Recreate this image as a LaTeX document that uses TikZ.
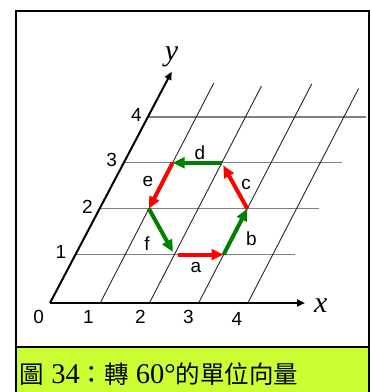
\documentclass[tikz,border=0pt]{standalone}
\usepackage{fontspec}
\usetikzlibrary{arrows.meta}
\newfontfamily\lsans{Liberation Sans}
\newfontfamily\lserif{Liberation Serif}
\newfontfamily\cjk{Noto Sans CJK TC}
\definecolor{vred}{RGB}{255,0,0}
\definecolor{vgreen}{RGB}{0,128,0}
\definecolor{capfill}{RGB}{204,255,51}
\definecolor{hgray}{RGB}{128,128,128}
\newcommand\capnum[1]{{\lserif\fontsize{28.5}{30}\selectfont#1}}
\begin{document}
\begin{tikzpicture}[x=1pt,y=-1pt,
  frame/.style={line width=2pt,black},
  hline/.style={line width=1.3pt,hgray},
  sline/.style={line width=0.9pt,black!85},
  axis/.style={line width=2pt,black,-{Triangle[length=8pt,width=7pt]}},
  vec/.style={line width=4pt,-{Triangle[length=12pt,width=10.5pt]}},
  redvec/.style={vec,vred},
  greenvec/.style={vec,vgreen},
  ticklab/.style={font=\lsans\fontsize{19}{19}\selectfont,inner sep=0pt},
  veclab/.style={font=\lsans\fontsize{19}{19}\selectfont,inner sep=0pt},
  axlabel/.style={font=\lserif\itshape\fontsize{30}{30}\selectfont,inner sep=0pt}]
\useasboundingbox (0,0) rectangle (372,392);
% caption box and frame
\fill[capfill] (16,347.3) rectangle (369,395);
\draw[frame] (16,395) -- (16,11) -- (369,11) -- (369,395);
\draw[frame,line width=2.3pt] (16,347.3) -- (369,347.3);
% oblique grid
\begin{scope}[shift={(52.3,300.5)}, x={(49.2pt,0pt)}, y={(23.7pt,45.9pt)}]
  \foreach \j in {1,...,4} \draw[hline] (0,\j) -- (4.45,\j);
  \foreach \i/\t in {1/4.74,2/4.67,3/4.72,4/4.62} \draw[sline] (\i,-0.05) -- (\i,\t);
  \coordinate (A) at (2,1);
  \coordinate (B) at (3,1);
  \coordinate (C) at (3,2);
  \coordinate (D) at (2,3);
  \coordinate (E) at (1,3);
  \coordinate (F) at (1,2);
\end{scope}
% axes
\coordinate (O) at (50,303);
\coordinate (X) at (305,303);
\coordinate (Y) at (171.7,71.7);
\draw[axis] (O) -- (X);
\draw[axis] (O) -- (Y);
\node[axlabel] (xl) at (320.7,305.5) {x};
\node[axlabel] (yl) at (171.5,56.7) {y};
% tick labels
\node[ticklab] (x0) at (38.7,316.7) {0};
\node[ticklab] (x1) at (88.3,317) {1};
\node[ticklab] (x2) at (140.5,316.7) {2};
\node[ticklab] (x3) at (188.3,316.7) {3};
\node[ticklab] (x4) at (237,318.8) {4};
\node[ticklab] (y1) at (61,251.7) {1};
\node[ticklab] (y2) at (87.3,206.7) {2};
\node[ticklab] (y3) at (111.7,160) {3};
\node[ticklab] (y4) at (136.5,114.5) {4};
% hexagon of unit vectors
\draw[redvec,shorten <=4pt] (A) -- (B);
\draw[greenvec] (B) -- (C);
\draw[redvec,shorten >=3pt] (C) -- (D);
\draw[greenvec] (D) -- (E);
\draw[redvec] (E) -- (F);
\draw[greenvec,shorten >=3pt] (F) -- (A);
\node[veclab] (la) at (196,267.5) {a};
\node[veclab] (lb) at (251.5,239) {b};
\node[veclab] (lc) at (246,184) {c};
\node[veclab] (ld) at (200,152.5) {d};
\node[veclab] (le) at (148,181.7) {e};
\node[veclab] (lf) at (147,244) {f};
% caption
\node[anchor=base west,inner sep=0pt] (cap) at (19.5,383.5)
  {\cjk\fontsize{24.5}{26}\selectfont 圖\capnum{\ 34}：轉\capnum{\ 60°}的單位向量};
\end{tikzpicture}
\end{document}
